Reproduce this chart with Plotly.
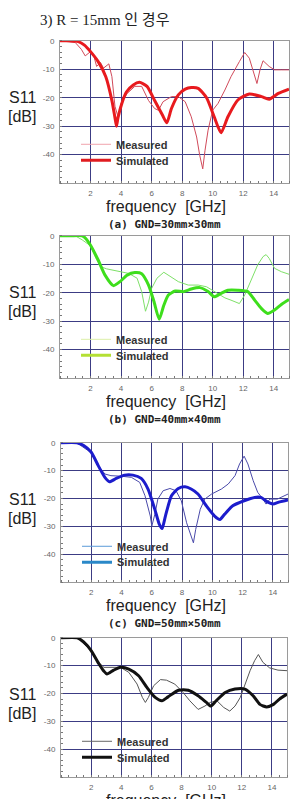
import plotly.graph_objects as go

W, H = 291, 799

# ---------------- data ----------------
title_text = "3) R = 15mm 인 경우"
captions = ["(a) GND=30mm×30mm", "(b) GND=40mm×40mm", "(c) GND=50mm×50mm", ""]
x_ticks = [2, 4, 6, 8, 10, 12, 14]
y_ticks = [0, -10, -20, -30, -40]
y_tick_labels = ["0", "-10", "-20", "-30", "-40"]

sim1_x = [0, 0.6, 1.2, 1.6, 2.0, 2.5, 3.0, 3.4, 3.6, 3.7, 3.8, 4.05, 4.35, 4.8, 5.2, 5.7, 6.2, 6.7, 7.0, 7.3, 7.75, 8.2, 8.6, 9.05, 9.6, 10.1, 10.55, 11.0, 11.65, 12.4, 13.2, 13.7, 14.3, 15.0]
sim1_y = [0, 0, -0.3, -1.5, -3.8, -7.3, -12.6, -21, -27, -30, -27, -22, -18, -15.5, -14.6, -16, -21, -26, -28.8, -23.8, -19, -17, -16.4, -16.7, -20, -26.7, -32.3, -26.7, -20.8, -18.7, -19.6, -20.5, -18.5, -17]
meas1_x = [0, 0.5, 1.0, 1.4, 1.65, 2.0, 2.2, 2.4, 2.65, 2.85, 3.2, 3.4, 3.6, 3.8, 4.0, 4.4, 4.9, 5.35, 5.8, 6.2, 6.45, 6.75, 7.3, 7.75, 8.2, 8.6, 8.95, 9.15, 9.25, 9.35, 9.5, 9.7, 10.0, 10.35, 10.8, 11.2, 11.75, 12.1, 12.4, 12.75, 12.9, 13.1, 13.3, 13.7, 14.05, 14.5, 15.0]
meas1_y = [0, -0.2, -0.6, -3, -5.3, -3.8, -5, -9, -7.6, -9.6, -8.1, -12.6, -23, -26.7, -22, -18.5, -16, -16, -21, -23.8, -24.4, -21.4, -19.6, -19.6, -21.4, -26.7, -33.8, -40.2, -43, -45, -38.5, -31.4, -24.4, -22, -17.3, -12.6, -7.3, -4.1, -6.1, -12.6, -15, -10.2, -7, -9, -10.2, -10.2, -10.2]

sim2_x = [0, 0.7, 1.45, 1.7, 2.0, 2.5, 2.95, 3.5, 3.95, 4.4, 4.9, 5.35, 5.8, 6.15, 6.5, 6.8, 7.1, 7.55, 8.1, 8.6, 9.15, 9.7, 10.1, 10.55, 11.0, 11.65, 12.3, 12.75, 13.2, 13.6, 14.05, 14.5, 15.0]
sim2_y = [0, 0, 0, -1, -3.3, -8.5, -13.8, -17.5, -16, -13.8, -12.9, -13.3, -17.3, -23, -29.3, -24.4, -20.8, -19.4, -19.6, -18.7, -18.2, -19.6, -21.4, -20.2, -19.1, -19.1, -19.6, -22.6, -25.6, -27.3, -26.1, -24.1, -22.4]
meas2_x = [0, 1.0, 1.45, 2.0, 2.3, 2.65, 3.05, 3.85, 4.5, 5.05, 5.35, 5.6, 5.8, 6.0, 6.35, 6.8, 7.3, 7.75, 8.4, 9.05, 9.6, 10.1, 10.8, 11.2, 11.75, 12.1, 12.5, 12.95, 13.3, 13.5, 13.7, 14.05, 14.5, 15.0]
meas2_y = [0, 0, -1.4, -3.5, -7.3, -10.8, -11.6, -12.4, -13.2, -14.9, -19.6, -26.5, -23.3, -18.5, -14.9, -12.8, -14.4, -16.1, -17.3, -17.3, -17.9, -19.6, -21.8, -22.6, -23.8, -20.8, -16.1, -10.2, -7.3, -6.6, -7.9, -11.4, -12.6, -13.5]

sim3_x = [0, 1.05, 1.5, 2.0, 2.46, 2.9, 3.2, 3.65, 4.2, 4.75, 5.3, 5.75, 6.2, 6.5, 6.68, 6.9, 7.3, 7.75, 8.2, 8.6, 9.05, 9.6, 10.15, 10.5, 10.8, 11.35, 12.1, 12.8, 13.2, 13.7, 14.0, 14.45, 15.0]
sim3_y = [0, 0, -1, -3.4, -8.2, -12.4, -14, -12.8, -11.6, -11.6, -12.8, -16.6, -23.9, -29.3, -30.8, -26.3, -19, -16.4, -15.8, -16.6, -18.4, -22.6, -26.3, -27.5, -25.7, -22.6, -20.8, -19.6, -19.6, -21.4, -22, -21.2, -20.5]
meas3_x = [0, 1.05, 2.0, 2.46, 2.9, 3.3, 4.0, 4.65, 5.2, 5.55, 5.9, 6.0, 6.2, 6.4, 6.75, 7.2, 7.6, 7.95, 8.3, 8.6, 8.75, 8.9, 9.2, 9.5, 9.95, 10.6, 11.05, 11.5, 11.8, 12.1, 12.35, 12.7, 13.0, 13.35, 13.55, 13.8, 14.3, 15.0]
meas3_y = [0, 0, -3.6, -8.2, -11.2, -11.8, -12, -12.4, -14.2, -19, -26.3, -29.9, -25.7, -20.2, -17.2, -16.4, -17.2, -20.8, -28.7, -33.5, -35.9, -31.1, -23.9, -20.2, -18.4, -16.6, -14.8, -11.8, -7.6, -4.8, -7.6, -13.6, -17.8, -20.2, -22, -20.2, -20.2, -18.4]

sim4_x = [0, 1.08, 1.5, 2.0, 2.5, 2.85, 3.05, 3.5, 3.95, 4.5, 5.15, 5.7, 6.25, 6.7, 7.1, 7.8, 8.45, 9.1, 9.65, 9.95, 10.3, 10.9, 11.55, 12.2, 12.75, 13.2, 13.65, 14.1, 14.5, 15.0]
sim4_y = [0, 0, -1.5, -4.6, -9.2, -12, -13, -11.6, -10.6, -11.2, -13.6, -17.8, -21.4, -22.6, -21.2, -18.8, -18.8, -20.8, -23.2, -24.5, -22.6, -19.6, -18.4, -18.4, -20.8, -23.9, -24.8, -23.9, -22, -20.2]
meas4_x = [0, 1.08, 2.0, 2.5, 2.85, 3.4, 3.95, 4.5, 5.05, 5.4, 5.6, 5.8, 6.15, 6.6, 7.0, 7.55, 8.1, 8.55, 9.1, 9.55, 9.9, 10.35, 10.8, 11.2, 11.55, 11.9, 12.2, 12.55, 12.85, 13.1, 13.4, 13.85, 14.4, 15.0]
meas4_y = [0, 0, -4.6, -8.8, -10.6, -10.6, -10.6, -12.4, -16.6, -21.4, -23.2, -21.4, -17.2, -15, -15.2, -16.6, -19.6, -22.6, -25.7, -24.5, -23.2, -22.6, -25, -26.3, -24.5, -21.4, -16.6, -11.8, -8.2, -6, -8.8, -10.8, -11.6, -11.8]

series_names = ["Measured", "Simulated"]

# ---------------- styles ----------------
panels = [
    dict(top=37, bottom=180, left=60, right=289,
         sim=(sim1_x, sim1_y), meas=(meas1_x, meas1_y),
         sim_c="#e81a1e", meas_c="#d04a5a", leg_m="#f0a4ac", leg_s="#e01c20"),
    dict(top=233, bottom=376, left=60, right=289,
         sim=(sim2_x, sim2_y), meas=(meas2_x, meas2_y),
         sim_c="#3ede1c", meas_c="#7ee068", leg_m="#dcefa8", leg_s="#b4e034"),
    dict(top=441, bottom=581, left=61, right=288,
         sim=(sim3_x, sim3_y), meas=(meas3_x, meas3_y),
         sim_c="#1c1ccc", meas_c="#4a4aaa", leg_m="#5a9ad8", leg_s="#2a88c8"),
    dict(top=637, bottom=777, left=61, right=287,
         sim=(sim4_x, sim4_y), meas=(meas4_x, meas4_y),
         sim_c="#111111", meas_c="#555555", leg_m="#666666", leg_s="#111111"),
]

GRID = "#3c3c84"
FRAME = "#9a9a9a"
SANS = "Liberation Sans, Arial"

def px_x(p):
    return p / W

def px_y(p):
    return 1 - p / H

fig = go.Figure()
annotations = []
shapes = []
layout = dict(width=W, height=H, margin=dict(l=0, r=0, t=0, b=0),
              paper_bgcolor="white", plot_bgcolor="white",
              font=dict(family=SANS, size=8, color="#555"))

leg_count = 0
for i, p in enumerate(panels):
    n = i + 1
    sfx = "" if n == 1 else str(n)
    xa, ya = "x" + sfx, "y" + sfx
    fig.add_trace(go.Scatter(x=p["meas"][0], y=p["meas"][1], mode="lines",
                             line=dict(color=p["meas_c"], width=1),
                             xaxis=xa, yaxis=ya, showlegend=False))
    fig.add_trace(go.Scatter(x=p["sim"][0], y=p["sim"][1], mode="lines",
                             line=dict(color=p["sim_c"], width=3, shape="spline", smoothing=0.6),
                             xaxis=xa, yaxis=ya, showlegend=False))
    # legend entries: one legend per item so the spacing can follow the reference
    for k, (name, col, wid, dy) in enumerate([(series_names[0], p["leg_m"], 1, 104),
                                               (series_names[1], p["leg_s"], 3, 120)]):
        leg_count += 1
        leg = "legend" if leg_count == 1 else "legend" + str(leg_count)
        fig.add_trace(go.Scatter(x=[None], y=[None], mode="lines", name=name,
                                 line=dict(color=col, width=wid),
                                 xaxis=xa, yaxis=ya, legend=leg))
        layout[leg] = dict(x=px_x(p["left"] + 16), y=px_y(p["top"] + dy),
                           xanchor="left", yanchor="middle",
                           bgcolor="rgba(0,0,0,0)", borderwidth=0,
                           font=dict(family=SANS, size=11, color="#333", weight="bold"),
                           itemwidth=30)
    # white legend backdrop hiding the grid (between grid and traces)
    shapes.append(dict(type="rect", xref="paper", yref="paper", layer="between",
                       x0=px_x(p["left"] + 12), x1=px_x(p["left"] + 114),
                       y0=px_y(p["top"] + 131), y1=px_y(p["top"] + 95),
                       fillcolor="white", line=dict(width=0)))

    layout["xaxis" + sfx] = dict(
        domain=[px_x(p["left"]), px_x(p["right"])], anchor=ya, range=[0, 15],
        tickvals=x_ticks, ticks="", showgrid=True, gridcolor=GRID, gridwidth=1,
        showline=True, mirror=True, linecolor=FRAME, linewidth=1, zeroline=False,
        tickfont=dict(size=8, color="#666"), ticklabelstandoff=2,
        minor=dict(dtick=0.5, tick0=0, ticks="inside", ticklen=2, tickcolor="#777", showgrid=False),
    )
    layout["yaxis" + sfx] = dict(
        domain=[px_y(p["bottom"]), px_y(p["top"])], anchor=xa, range=[-50, 0],
        tickvals=y_ticks, ticktext=y_tick_labels, ticks="", showgrid=True,
        gridcolor=GRID, gridwidth=1, showline=True, mirror=True, linecolor=FRAME,
        linewidth=1, zeroline=False, tickfont=dict(size=8, color="#666"),
        ticklabelstandoff=3,
        minor=dict(dtick=2, tick0=0, ticks="inside", ticklen=2, tickcolor="#777", showgrid=False),
    )

    def note(text, cx, cy, font):
        annotations.append(dict(text=text, x=px_x(cx), y=px_y(cy), xref="paper", yref="paper",
                                xanchor="center", yanchor="middle", showarrow=False, font=font))

    big = dict(family=SANS, size=16, color="#222")
    note("S11", 22, p["top"] + 57, big)
    note("[dB]", 22, p["top"] + 76, big)
    note("frequency  [GHz]", 166, p["bottom"] + 24, big)
    if captions[i]:
        note(captions[i], 164, p["bottom"] + 42,
             dict(family="DejaVu Sans Mono", size=11, color="#222", weight="bold"))

annotations.append(dict(text=title_text, x=px_x(38), y=px_y(17), xref="paper", yref="paper",
                        xanchor="left", yanchor="middle", showarrow=False,
                        font=dict(family="Liberation Serif, Noto Sans CJK KR", size=15, color="#222")))
layout["annotations"] = annotations
layout["shapes"] = shapes
fig.update_layout(**layout)
fig.write_html("out.html")
